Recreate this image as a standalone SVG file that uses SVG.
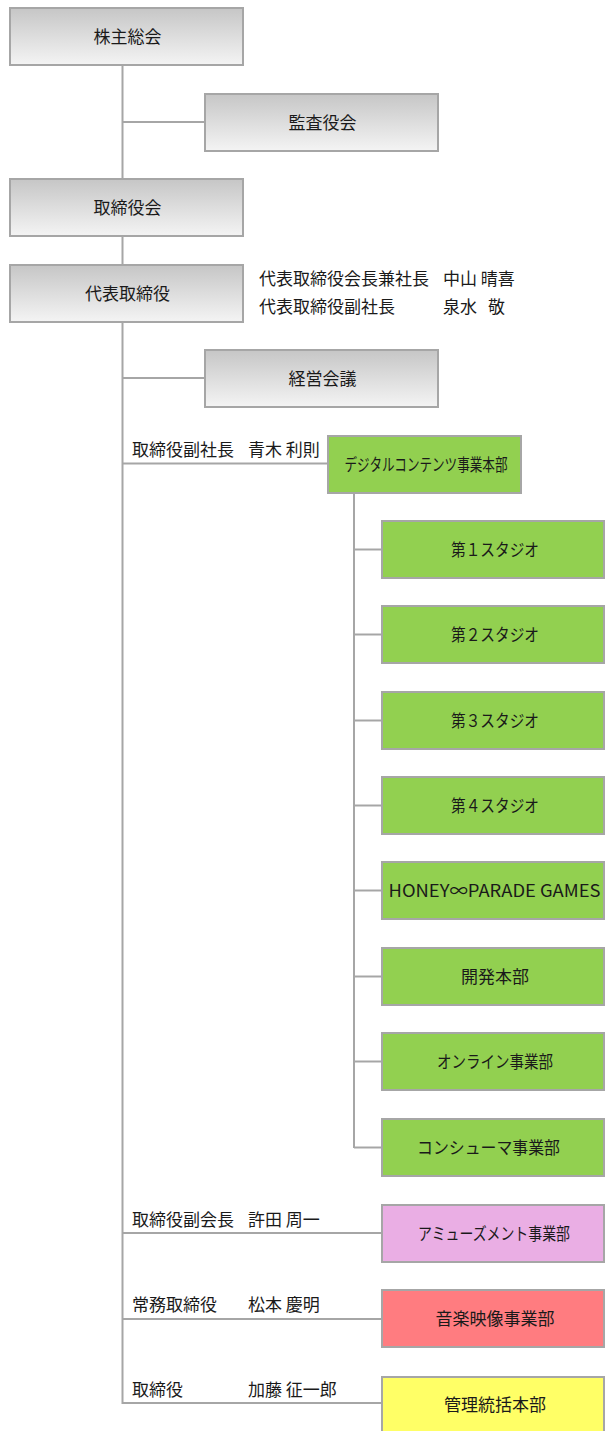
<svg xmlns="http://www.w3.org/2000/svg" width="605" height="1431" viewBox="0 0 605 1431">
<defs>
<linearGradient id="g" x1="0" y1="0" x2="0" y2="1">
<stop offset="0" stop-color="#c6c6c6"/>
<stop offset="1" stop-color="#f4f4f4"/>
</linearGradient>
</defs>
<style>
text{font-family:"Noto Sans CJK JP","Noto Sans",sans-serif;font-size:17px;fill:#1a1a1a}
.c{text-anchor:middle}
.gray{fill:url(#g);stroke:#a6a6a6;stroke-width:2}
.green{fill:#92d050;stroke:#a6a6a6;stroke-width:2}
.pink{fill:#eaaee4;stroke:#a6a6a6;stroke-width:2}
.red{fill:#ff7c80;stroke:#a6a6a6;stroke-width:2}
.yellow{fill:#ffff66;stroke:#a6a6a6;stroke-width:2}
.ln{stroke:#a6a6a6;stroke-width:2;fill:none}
</style>
<g id="connectors">
<line class="ln" x1="122.5" y1="65" x2="122.5" y2="1404"/>
<line class="ln" x1="122.5" y1="122" x2="205" y2="122"/>
<line class="ln" x1="122.5" y1="378" x2="205" y2="378"/>
<line class="ln" x1="122.5" y1="463.5" x2="328" y2="463.5"/>
<line class="ln" x1="354" y1="493" x2="354" y2="1148"/>
<line class="ln" x1="354" y1="549.5" x2="382" y2="549.5"/>
<line class="ln" x1="354" y1="634.5" x2="382" y2="634.5"/>
<line class="ln" x1="354" y1="720.5" x2="382" y2="720.5"/>
<line class="ln" x1="354" y1="805.5" x2="382" y2="805.5"/>
<line class="ln" x1="354" y1="890.5" x2="382" y2="890.5"/>
<line class="ln" x1="354" y1="976.5" x2="382" y2="976.5"/>
<line class="ln" x1="354" y1="1061.5" x2="382" y2="1061.5"/>
<line class="ln" x1="354" y1="1147.5" x2="382" y2="1147.5"/>
<line class="ln" x1="122.5" y1="1233" x2="382" y2="1233"/>
<line class="ln" x1="122.5" y1="1319" x2="382" y2="1319"/>
<line class="ln" x1="122.5" y1="1403" x2="382" y2="1403"/>
</g>
<g id="n1"><rect class="gray" x="10" y="8" width="233" height="57"/><text class="c" x="127.5" y="42.5">株主総会</text></g>
<g id="n2"><rect class="gray" x="205" y="94" width="233" height="57"/><text class="c" x="322.5" y="128.5">監査役会</text></g>
<g id="n3"><rect class="gray" x="10" y="179" width="233" height="57"/><text class="c" x="127.5" y="213.5">取締役会</text></g>
<g id="n4"><rect class="gray" x="10" y="265" width="233" height="57"/><text class="c" x="127.5" y="299.5">代表取締役</text></g>
<g id="n4note"><text x="259" y="285">代表取締役会長兼社長</text><text x="443" y="285">中山 晴喜</text><text x="259" y="313">代表取締役副社長</text><text x="443" y="313">泉水</text><text x="488" y="313">敬</text></g>
<g id="n5"><rect class="gray" x="205" y="350" width="233" height="57"/><text class="c" x="322.5" y="384.5">経営会議</text></g>
<g id="n6"><text x="132" y="456">取締役副社長</text><text x="248" y="456">青木 利則</text><rect class="green" x="328" y="436" width="193" height="57"/><text class="c" x="426" y="470.5" textLength="163" lengthAdjust="spacingAndGlyphs">デジタルコンテンツ事業本部</text></g>
<g id="s1"><rect class="green" x="382" y="521" width="222" height="57"/><text class="c" x="495" y="555.5" textLength="88" lengthAdjust="spacingAndGlyphs">第１スタジオ</text></g>
<g id="s2"><rect class="green" x="382" y="606" width="222" height="57"/><text class="c" x="495" y="640.5" textLength="88" lengthAdjust="spacingAndGlyphs">第２スタジオ</text></g>
<g id="s3"><rect class="green" x="382" y="692" width="222" height="57"/><text class="c" x="495" y="726.5" textLength="88" lengthAdjust="spacingAndGlyphs">第３スタジオ</text></g>
<g id="s4"><rect class="green" x="382" y="777" width="222" height="57"/><text class="c" x="495" y="811.5" textLength="88" lengthAdjust="spacingAndGlyphs">第４スタジオ</text></g>
<g id="s5"><rect class="green" x="382" y="862" width="222" height="57"/><text class="c" x="494.5" y="896.5" textLength="212" lengthAdjust="spacingAndGlyphs">HONEY∞PARADE GAMES</text></g>
<g id="s6"><rect class="green" x="382" y="948" width="222" height="57"/><text class="c" x="495" y="982.5">開発本部</text></g>
<g id="s7"><rect class="green" x="382" y="1033" width="222" height="57"/><text class="c" x="495" y="1067.5" textLength="116" lengthAdjust="spacingAndGlyphs">オンライン事業部</text></g>
<g id="s8"><rect class="green" x="382" y="1119" width="222" height="57"/><text class="c" x="488.5" y="1153.5" textLength="143" lengthAdjust="spacingAndGlyphs">コンシューマ事業部</text></g>
<g id="n7"><text x="132" y="1226">取締役副会長</text><text x="248" y="1226">許田 周一</text><rect class="pink" x="382" y="1205" width="222" height="57"/><text class="c" x="494" y="1239.5" textLength="152" lengthAdjust="spacingAndGlyphs">アミューズメント事業部</text></g>
<g id="n8"><text x="132" y="1311">常務取締役</text><text x="248" y="1311">松本 慶明</text><rect class="red" x="382" y="1290" width="222" height="57"/><text class="c" x="495" y="1324.5">音楽映像事業部</text></g>
<g id="n9"><text x="132" y="1396">取締役</text><text x="248" y="1396">加藤 征一郎</text><rect class="yellow" x="382" y="1377" width="222" height="57"/><text class="c" x="495" y="1410.5">管理統括本部</text></g>
</svg>
